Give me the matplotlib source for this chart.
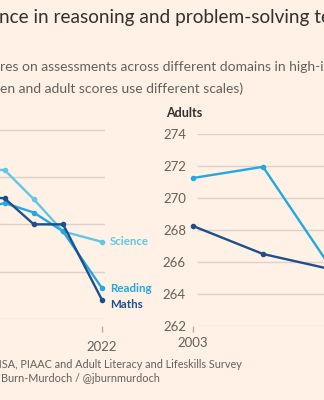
import matplotlib.pyplot as plt

# PISA (teenagers)
pisa_years = [2009, 2012, 2015, 2018, 2022]
maths = [496, 495.5, 490, 490, 474]
reading = [493, 494.5, 492.5, 488.5, 476.5]
science = [501.5, 501.5, 495.3, 488.5, 486.3]
pisa_grid = [470, 480, 490, 500, 510]

# Adult surveys
adult_years = [2003, 2012, 2023]
adult_literacy = [271.25, 271.95, 264.0]
adult_numeracy = [268.25, 266.5, 265.3]
adult_grid = [262, 264, 266, 268, 270, 272, 274]

BG = "#FFF1E5"
GRID = "#DCD2C9"
TEXT = "#33302E"
MUTED = "#66605C"
C_MATHS = "#1D4F8C"
C_READ = "#22A9E1"
C_SCI = "#62C6E8"

plt.rcParams["font.family"] = ["Lato", "DejaVu Sans"]

W, H = 324, 400


def fx(px):
    return px / W


def fy(py):
    return 1 - py / H


fig = plt.figure(figsize=(3.24, 4.0), dpi=100, facecolor=BG)

fig.text(fx(-1), fy(18), "nce in reasoning and problem-solving tests",
         fontsize=13.7, color=TEXT, va="center", ha="left")
fig.text(fx(0), fy(67), "res on assessments across different domains in high-income countries",
         fontsize=10, color=MUTED, va="center", ha="left")
fig.text(fx(0), fy(89), "en and adult scores use different scales)",
         fontsize=10, color=MUTED, va="center", ha="left")

# left panel: teenagers
ax1 = fig.add_axes((fx(-20), fy(319), fx(125), (319 - 125) / H))
ax1.set_facecolor("none")
ax1.set_xlim(2022.3 - 125 / 9.75, 2022.3)
ax1.set_ylim(470, 511)
for v in pisa_grid:
    ax1.axhline(v, color=GRID, lw=1, zorder=0)
for vals, col in [(science, C_SCI), (reading, C_READ), (maths, C_MATHS)]:
    ax1.plot(pisa_years, vals, color=col, lw=1.7, marker="o", markersize=3, clip_on=False)
ax1.text(2022.8, science[-1], "Science", color=C_SCI, fontsize=8.3, fontweight="bold", va="center")
ax1.text(2022.8, reading[-1], "Reading", color=C_READ, fontsize=8.3, fontweight="bold", va="center")
ax1.text(2022.8, maths[-1] - 1.0, "Maths", color=C_MATHS, fontsize=8.3, fontweight="bold", va="center")
ax1.set_xticks([2022])
ax1.set_yticks([])
ax1.spines["bottom"].set_position(("outward", 5))
ax1.tick_params(axis="x", length=4, width=1, color="#B8AEA6", pad=7, labelsize=9.5, labelcolor=MUTED)
for s in ax1.spines.values():
    s.set_visible(False)

# right panel: adults
ax2 = fig.add_axes((fx(193), fy(326), fx(167), (326 - 134) / H))
ax2.set_facecolor("none")
ax2.set_xlim(2003, 2003 + 167 / 7.78)
ax2.set_ylim(262, 274)
ax2.hlines(adult_grid, 2003.5, 2030, color=GRID, lw=1, zorder=0)
ax2.plot(adult_years, adult_literacy, color=C_READ, lw=1.7, marker="o", markersize=3, clip_on=False)
ax2.plot(adult_years, adult_numeracy, color=C_MATHS, lw=1.7, marker="o", markersize=3, clip_on=False)
ax2.set_yticks(adult_grid)
ax2.set_xticks([2003])
ax2.tick_params(axis="y", length=0, pad=5, labelsize=9.5, labelcolor=MUTED)
ax2.tick_params(axis="x", length=4, width=1, color="#B8AEA6", pad=4, labelsize=9.5, labelcolor=MUTED)
for s in ax2.spines.values():
    s.set_visible(False)
fig.text(fx(166), fy(113), "Adults", fontsize=9, fontweight="bold", color=TEXT, va="center")

fig.text(fx(242), fy(365), "Source: FT analysis of OECD PISA, PIAAC and Adult Literacy and Lifeskills Survey",
         fontsize=7.8, color=MUTED, ha="right", va="center")
fig.text(fx(160), fy(379), "Graphic: John Burn-Murdoch / @jburnmurdoch",
         fontsize=7.8, color=MUTED, ha="right", va="center")

fig.savefig("out.png", dpi=100, facecolor=BG)
